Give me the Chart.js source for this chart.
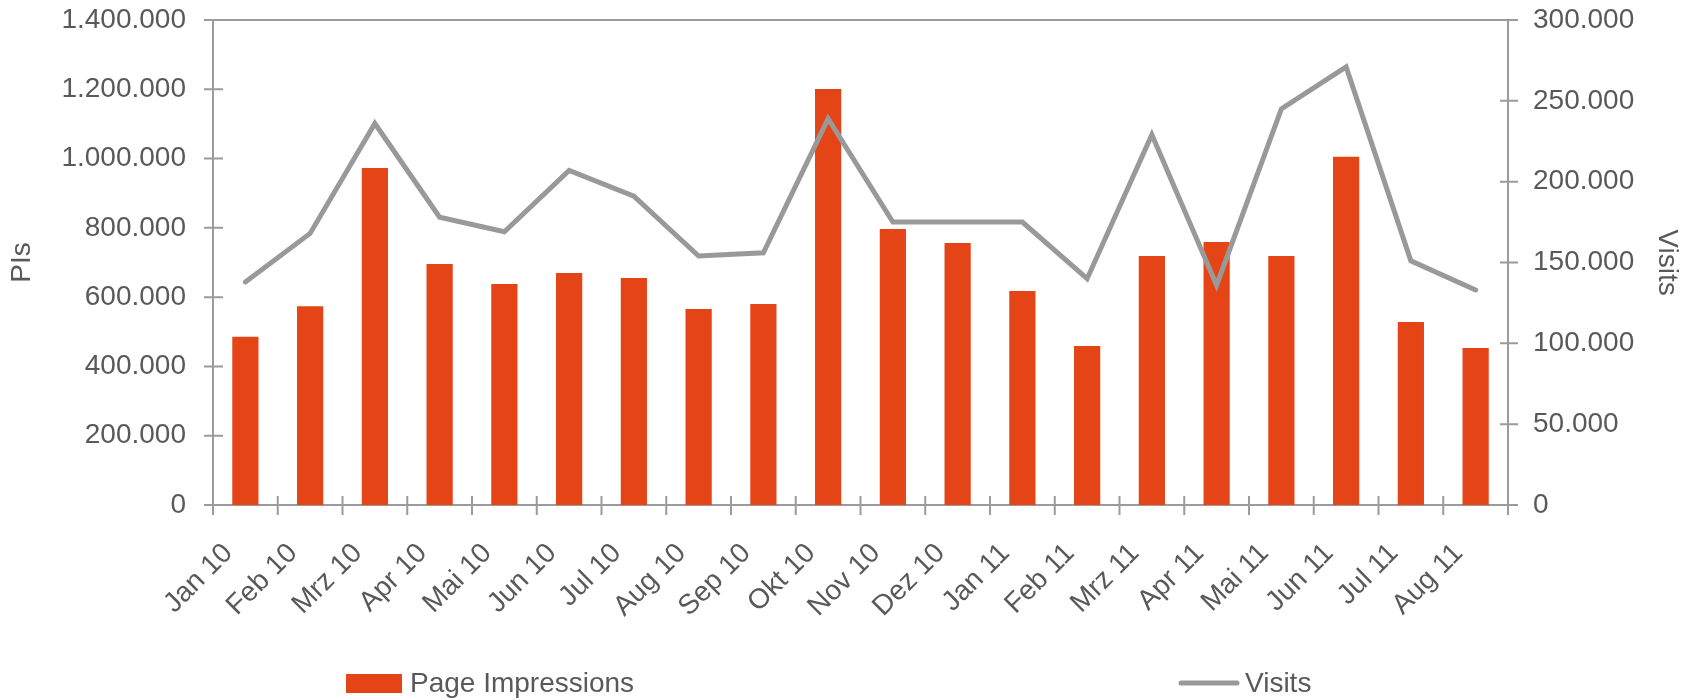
<!DOCTYPE html>
<html>
<head>
<meta charset="utf-8">
<script src="https://cdn.jsdelivr.net/npm/chart.js@4/dist/chart.umd.min.js"></script>
<style>
    html, body { margin: 0; padding: 0; background: #fff; }
    #wrap { width: 1692px; height: 700px; }
</style>
</head>
<body>
<div id="wrap"><canvas id="piChart" width="1692" height="700"></canvas></div>
<script>
// Data
const months = ['Jan 10', 'Feb 10', 'Mrz 10', 'Apr 10', 'Mai 10', 'Jun 10', 'Jul 10', 'Aug 10', 'Sep 10', 'Okt 10',
    'Nov 10', 'Dez 10', 'Jan 11', 'Feb 11', 'Mrz 11', 'Apr 11', 'Mai 11', 'Jun 11', 'Jul 11', 'Aug 11'];

const pageImpressions = [486000, 574000, 973000, 696000, 638000, 670000, 655000, 566000, 580000, 1201000,
    797000, 756000, 618000, 459000, 719000, 759000, 719000, 1005000, 528000, 453000];

const visits = [138000, 168000, 236000, 178000, 169000, 207000, 191000, 154000, 156000, 239000,
    175000, 175000, 175000, 140000, 229000, 136000, 245000, 271000, 151000, 133000];

const piTicks = [0, 200000, 400000, 600000, 800000, 1000000, 1200000, 1400000];
const visitTicks = [0, 50000, 100000, 150000, 200000, 250000, 300000];

const colors = {
    bar: '#E54417',
    line: '#999999',
    axis: '#9b9b9b',
    text: '#595959',
};

const fontFamily = '"Liberation Sans", Arial, sans-serif';

// 1.400.000 style
function fmt(v) {
    return String(v).replace(/\B(?=(\d{3})+(?!\d))/g, '.');
}

// cross tick marks, top border and the wide legend
const decorations = {
    id: 'decorations',
    afterDatasetsDraw(chart) {
        const ctx = chart.ctx;
        const area = chart.chartArea;
        const x = chart.scales.x, y = chart.scales.y, y1 = chart.scales.y1;
        ctx.save();
        ctx.strokeStyle = colors.axis;
        ctx.lineWidth = 2;
        ctx.beginPath();
        ctx.moveTo(area.left, area.top);
        ctx.lineTo(area.right, area.top);
        y.ticks.forEach((t, i) => {
            const py = y.getPixelForTick(i);
            ctx.moveTo(area.left - 9, py);
            ctx.lineTo(area.left + 10, py);
        });
        y1.ticks.forEach((t, i) => {
            const py = y1.getPixelForTick(i);
            ctx.moveTo(area.right - 8, py);
            ctx.lineTo(area.right + 10, py);
        });
        const n = chart.data.labels.length;
        for (let i = 0; i <= n; i++) {
            const px = x.left + i * x.width / n;
            ctx.moveTo(px, area.bottom - 9);
            ctx.lineTo(px, area.bottom + 10);
        }
        ctx.stroke();
        ctx.restore();
    },
    afterDraw(chart) {
        const ctx = chart.ctx;
        const ds = chart.data.datasets;
        ctx.save();
        ctx.font = '28px ' + fontFamily;
        ctx.textBaseline = 'middle';
        // bar entry
        ctx.fillStyle = ds[0].backgroundColor;
        ctx.fillRect(346, 674, 56, 19);
        ctx.fillStyle = colors.text;
        ctx.fillText(ds[0].label, 410, 684);
        // line entry
        ctx.strokeStyle = ds[1].borderColor;
        ctx.lineWidth = ds[1].borderWidth;
        ctx.lineCap = 'round';
        ctx.beginPath();
        ctx.moveTo(1181, 683);
        ctx.lineTo(1237, 683);
        ctx.stroke();
        ctx.fillText(ds[1].label, 1245, 684);
        ctx.restore();
    }
};

function createChart() {
    const ctx = document.getElementById('piChart').getContext('2d');
    new Chart(ctx, {
        type: 'bar',
        data: {
            labels: months,
            datasets: [
                {
                    type: 'bar',
                    label: 'Page Impressions',
                    data: pageImpressions,
                    backgroundColor: colors.bar,
                    borderWidth: 0,
                    barPercentage: 0.405,
                    categoryPercentage: 1,
                    yAxisID: 'y',
                    order: 1,
                },
                {
                    type: 'line',
                    label: 'Visits',
                    data: visits,
                    borderColor: colors.line,
                    backgroundColor: colors.line,
                    borderWidth: 5,
                    borderCapStyle: 'round',
                    pointRadius: 0,
                    tension: 0,
                    yAxisID: 'y1',
                    order: 0,
                }
            ]
        },
        options: {
            responsive: false,
            animation: false,
            layout: { padding: { top: 20, bottom: 0, left: 0, right: 0 } },
            plugins: {
                legend: { display: false },
                tooltip: { enabled: false },
            },
            scales: {
                x: {
                    grid: { display: false },
                    border: { display: true, color: colors.axis, width: 2 },
                    ticks: {
                        color: colors.text,
                        font: { family: fontFamily, size: 28 },
                        minRotation: 45,
                        maxRotation: 45,
                        padding: 24,
                        labelOffset: -17,
                        autoSkip: false,
                    },
                    afterFit(scale) { scale.height = 195; }
                },
                y: {
                    position: 'left',
                    min: 0,
                    max: 1400000,
                    afterBuildTicks(scale) { scale.ticks = piTicks.map(v => ({ value: v })); },
                    grid: { display: false, drawTicks: true, tickLength: 24 },
                    border: { display: true, color: colors.axis, width: 2 },
                    ticks: {
                        color: colors.text,
                        font: { family: fontFamily, size: 28 },
                        padding: 3,
                        callback: v => fmt(v),
                    },
                    title: {
                        display: true,
                        text: 'PIs',
                        color: colors.text,
                        font: { family: fontFamily, size: 28 },
                        padding: { top: 5, bottom: 0 },
                    },
                    afterFit(scale) { scale.width = 213; }
                },
                y1: {
                    position: 'right',
                    min: 0,
                    max: 300000,
                    afterBuildTicks(scale) { scale.ticks = visitTicks.map(v => ({ value: v })); },
                    grid: { display: false, drawTicks: true, tickLength: 22 },
                    border: { display: true, color: colors.axis, width: 2 },
                    ticks: {
                        color: colors.text,
                        font: { family: fontFamily, size: 28 },
                        padding: 3,
                        callback: v => fmt(v),
                    },
                    title: {
                        display: true,
                        text: 'Visits',
                        color: colors.text,
                        font: { family: fontFamily, size: 28 },
                        padding: { top: 8, bottom: 0 },
                    },
                    afterFit(scale) { scale.width = 184; }
                }
            }
        },
        plugins: [decorations]
    });
}

document.addEventListener('DOMContentLoaded', createChart);
</script>
</body>
</html>
